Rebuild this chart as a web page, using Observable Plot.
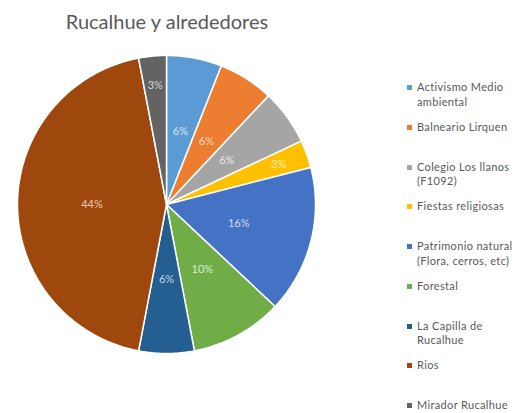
<!DOCTYPE html>
<html><head><meta charset="utf-8">
<script src="https://cdn.jsdelivr.net/npm/d3@7"></script>
<script src="https://cdn.jsdelivr.net/npm/@observablehq/plot@0.6"></script>
<style>
html,body{margin:0;padding:0;background:#fff;}
#wrap{position:relative;width:524px;height:413px;overflow:hidden;font-family:Lato,"Open Sans",sans-serif;}
#title{height:45px;box-sizing:border-box;padding-top:9px;width:334px;text-align:center;font-size:20px;color:#595959;line-height:24px;}
#legend{position:absolute;left:0;top:0;width:524px;height:413px;pointer-events:none;}
.li{position:absolute;left:407px;width:117px;font-size:11px;letter-spacing:0.35px;line-height:14.5px;color:#595959;display:flex;align-items:flex-start;white-space:nowrap;}
.sw{width:5px;height:5px;margin-top:5px;margin-right:5px;flex:none;}
</style></head>
<body><div id="wrap"><div id="title">Rucalhue y alrededores</div><div id="chart"></div><div id="legend"></div></div>
<script>
const categories = ["Activismo Medio ambiental","Balneario Lirquen","Colegio Los llanos (F1092)","Fiestas religiosas","Patrimonio natural (Flora, cerros, etc)","Forestal","La Capilla de Rucalhue","Rios","Mirador Rucalhue"];
const legendLabels = [["Activismo Medio","ambiental"],["Balneario Lirquen"],["Colegio Los llanos","(F1092)"],["Fiestas religiosas"],["Patrimonio natural","(Flora, cerros, etc)"],["Forestal"],["La Capilla de","Rucalhue"],["Rios"],["Mirador Rucalhue"]];
const percents = [6, 6, 6, 3, 16, 10, 6, 44, 3];
const colors = ["#5B9BD5","#ED7D31","#A5A5A5","#FFC000","#4472C4","#70AD47","#255E91","#9E480E","#636363"];
const labelColors = ["#d6e6f7","#fbdcc6","#e6e6e6","#fff0bf","#d0dcf2","#d9edc9","#c3d5e7","#ebcbb5","#d4d4d4"];

const pie = d3.pie().sort(null).value(d => d.value).startAngle(0).endAngle(2*Math.PI);
const data = categories.map((c,i) => ({name:c, value:percents[i], idx:i}));
const arcs = pie(data);

const pts = [];
arcs.forEach(a => {
  pts.push({name:a.data.name, x:0, y:0});
  const n = Math.max(4, Math.ceil((a.endAngle - a.startAngle) / 0.01));
  for (let k = 0; k <= n; k++) {
    const t = a.startAngle + (a.endAngle - a.startAngle) * k / n;
    pts.push({name:a.data.name, x:Math.sin(t), y:Math.cos(t)});
  }
});
const labels = arcs.map(a => {
  const m = (a.startAngle + a.endAngle) / 2;
  const r = a.data.value < 5 ? 0.8 : 0.5;
  return {name:a.data.name, text:a.data.value + "%", x:r*Math.sin(m), y:r*Math.cos(m), lc:labelColors[a.data.idx]};
});

const chart = Plot.plot({
  width:524, height:368,
  marginLeft:17, marginRight:209, marginTop:10, marginBottom:60,
  x:{domain:[-1,1], axis:null},
  y:{domain:[-1,1], axis:null},
  color:{domain:categories, range:colors},
  style:{fontFamily:"Lato, 'Open Sans', sans-serif", background:"transparent"},
  marks:[
    Plot.line(pts, {x:"x", y:"y", z:"name", fill:"name", stroke:"white", strokeWidth:1.5, curve:"linear-closed"}),
    Plot.text(labels, {x:"x", y:"y", text:"text", fill:d => d.lc, fontSize:11})
  ]
});
document.getElementById("chart").appendChild(chart);

// legend: evenly spaced entry slots (layout only)
const legendTop = 80, legendStep = 39.75;
const leg = document.getElementById("legend");
legendLabels.forEach((lines,i) => {
  const d = document.createElement("div");
  d.className = "li";
  d.style.top = (legendTop + legendStep * i) + "px";
  const s = document.createElement("span");
  s.className = "sw"; s.style.background = colors[i];
  const t = document.createElement("span");
  t.innerHTML = lines.join("<br>");
  d.appendChild(s); d.appendChild(t);
  leg.appendChild(d);
});
</script></body></html>
